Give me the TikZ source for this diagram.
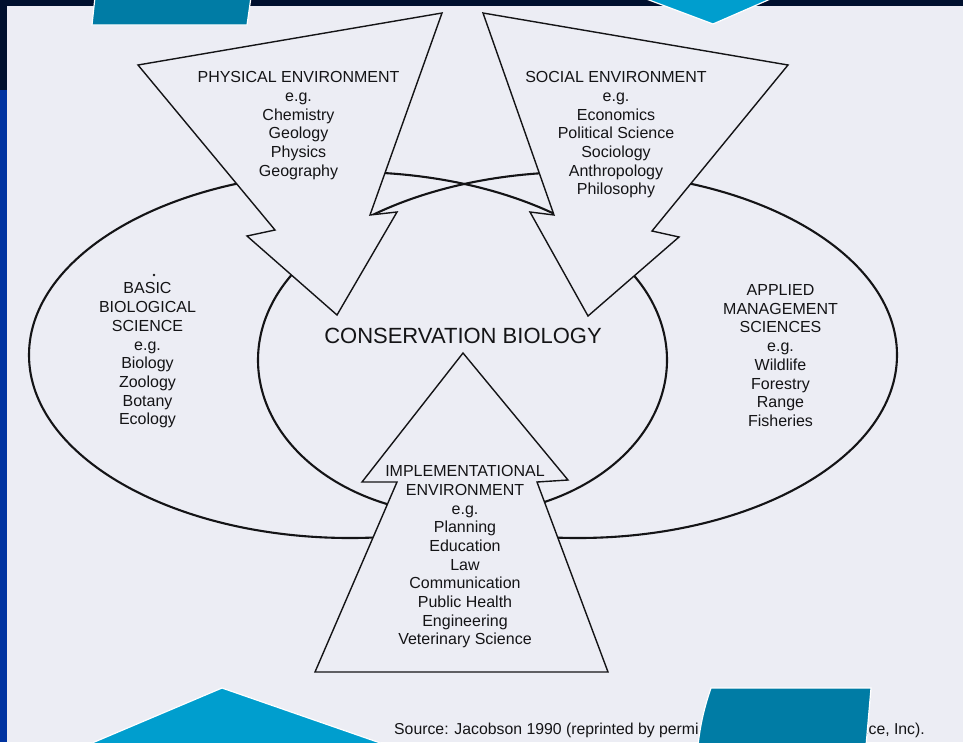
\documentclass[tikz,border=0pt]{standalone}
\usepackage{fontspec}
\setmainfont{Liberation Sans}
\definecolor{pagebg}{RGB}{236,237,244}
\definecolor{navyband}{RGB}{0,16,46}
\definecolor{royalband}{RGB}{0,51,160}
\definecolor{tealshape}{RGB}{0,124,165}
\definecolor{lightshape}{RGB}{0,158,206}
\definecolor{inkline}{RGB}{20,20,22}
\begin{document}
\begin{tikzpicture}[x=1pt,y=-1pt,
  arrowshape/.style={draw=inkline, line width=1.4pt, fill=pagebg, line join=miter},
  ovalline/.style={draw=inkline, line width=2.1pt},
  lbl/.style={align=center, anchor=north, inner sep=0pt, text=inkline,
              font=\fontsize{16}{18.7}\selectfont},
  decoshape/.style={draw=white, line width=1.2pt}
]
\useasboundingbox (0,0) rectangle (963,742);
\fill[pagebg] (0,0) rectangle (963,742);

% big ellipses
\draw[ovalline] (350,355) ellipse [x radius=321, y radius=183];
\draw[ovalline] (578,355) ellipse [x radius=319, y radius=183];

% hide inner parts of the big ellipses
\begin{scope}
  \clip (0,222) rectangle (963,742);
  \fill[pagebg] (462.5,360) ellipse [x radius=215, y radius=163];
\end{scope}

% central ellipse (visible arc)
\draw[ovalline] plot[domain=-40:220, samples=140, smooth]
  ({462.5+204.5*cos(\x)},{360+155*sin(\x)});

% arrow shapes
\draw[arrowshape] (138,65) -- (442,13) -- (370,215) -- (397,212) -- (337,315)
  -- (247,236) -- (275,230) -- cycle;
\draw[arrowshape] (483,13) -- (788,65) -- (652,231) -- (679,237) -- (588,316)
  -- (530,212) -- (554,215) -- cycle;
\draw[arrowshape] (463,353) -- (568,480) -- (537,482) -- (608,672) -- (315,672)
  -- (397,482) -- (362,482) -- cycle;

% labels
\node[lbl] (phys) at (298.5,71.3) {PHYSICAL ENVIRONMENT\\e.g.\\Chemistry\\Geology\\Physics\\Geography};
\node[lbl] (soc) at (616,71.3) {SOCIAL ENVIRONMENT\\e.g.\\Economics\\Political Science\\Sociology\\Anthropology\\Philosophy};
\node[lbl] (basic) at (147.5,282.6) {BASIC\\BIOLOGICAL\\SCIENCE\\e.g.\\Biology\\Zoology\\Botany\\Ecology};
\node[lbl] (appl) at (780.5,284.3) {APPLIED\\MANAGEMENT\\SCIENCES\\e.g.\\Wildlife\\Forestry\\Range\\Fisheries};
\node[lbl] (impl) at (465,465.3) {IMPLEMENTATIONAL\\ENVIRONMENT\\e.g.\\Planning\\Education\\Law\\Communication\\Public Health\\Engineering\\Veterinary Science};
\node[inner sep=0pt, text=inkline, font=\fontsize{22}{24}\selectfont] (cons) at (463,335.8) {CONSERVATION BIOLOGY};
\fill[inkline] (154,275) circle (1.3);

% source line
\node[anchor=base west, inner sep=0pt, text=inkline, font=\fontsize{15.8}{18}\selectfont] (src1) at (394,734) {Source: Jacobson 1990 (reprinted by permi};
\node[anchor=base east, inner sep=0pt, text=inkline, font=\fontsize{15.8}{18}\selectfont] (src2) at (925,734) {nce, Inc).};

% slide frame
\fill[navyband] (0,0) rectangle (963,6);
\fill[navyband] (0,0) rectangle (7,90);
\fill[royalband] (0,90) rectangle (7,742);
\filldraw[decoshape, fill=tealshape] (95,-3) -- (251,-3) -- (247,25) -- (92,25) -- cycle;
\filldraw[decoshape, fill=lightshape] (641,-3) -- (775,-3) -- (713,24) -- cycle;
\filldraw[decoshape, fill=lightshape] (222,688) -- (389,746) -- (85,746) -- cycle;
\filldraw[decoshape, fill=tealshape] (711,688) -- (871,688) -- (866,746) -- (698,746)
  .. controls (700,725) and (705,705) .. (711,688) -- cycle;
\end{tikzpicture}
\end{document}
